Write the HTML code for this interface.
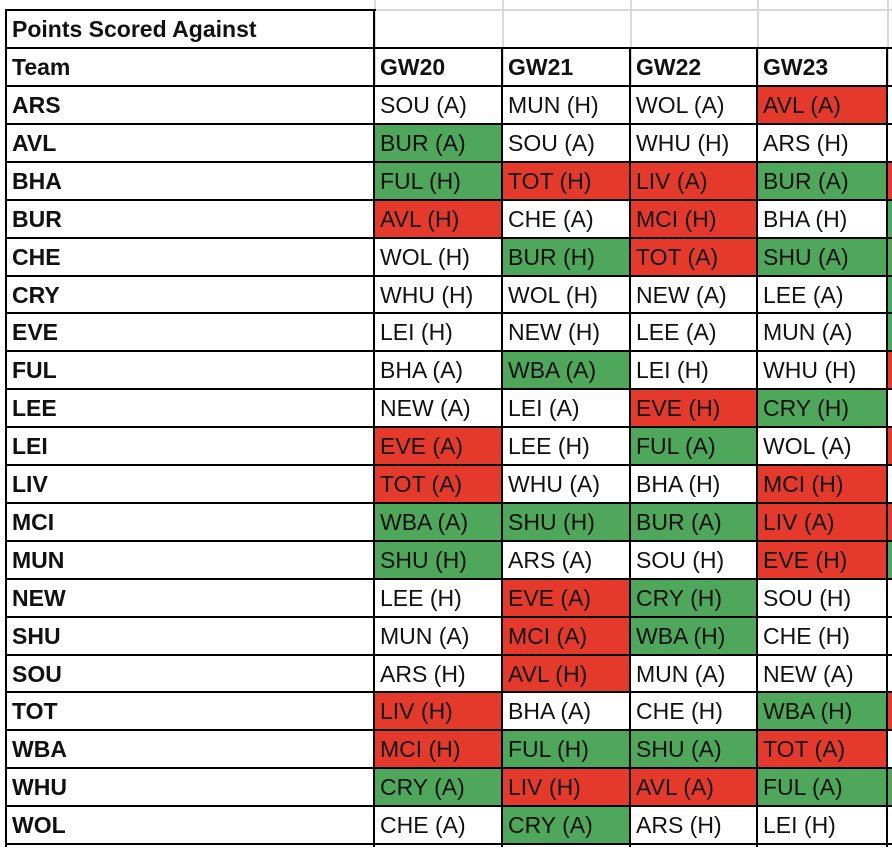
<!DOCTYPE html>
<html><head><meta charset="utf-8"><style>
body{margin:0;width:892px;height:851px;overflow:hidden;background:#fff;font-family:"Liberation Sans",sans-serif;}
#sheet{position:relative;width:892px;height:851px;overflow:hidden;}
.c{position:absolute;box-sizing:border-box;font-size:23px;line-height:38px;padding-left:6px;white-space:nowrap;overflow:hidden;color:#111;}
.b{font-weight:bold;}
.r{background:#e5392b;}
.g{background:#4ea75a;}
.gl{position:absolute;background:#d9d9d9;}
.bl{position:absolute;background:#000;}
</style></head><body>
<div id="sheet"></div>
<script>
const teams=["ARS","AVL","BHA","BUR","CHE","CRY","EVE","FUL","LEE","LEI","LIV","MCI","MUN","NEW","SHU","SOU","TOT","WBA","WHU","WOL"];
const weeks=["GW20","GW21","GW22","GW23",""];
const gw20=["SOU (A)","BUR (A)","FUL (H)","AVL (H)","WOL (H)","WHU (H)","LEI (H)","BHA (A)","NEW (A)","EVE (A)","TOT (A)","WBA (A)","SHU (H)","LEE (H)","MUN (A)","ARS (H)","LIV (H)","MCI (H)","CRY (A)","CHE (A)"];
const gw21=["MUN (H)","SOU (A)","TOT (H)","CHE (A)","BUR (H)","WOL (H)","NEW (H)","WBA (A)","LEI (A)","LEE (H)","WHU (A)","SHU (H)","ARS (A)","EVE (A)","MCI (A)","AVL (H)","BHA (A)","FUL (H)","LIV (H)","CRY (A)"];
const gw22=["WOL (A)","WHU (H)","LIV (A)","MCI (H)","TOT (A)","NEW (A)","LEE (A)","LEI (H)","EVE (H)","FUL (A)","BHA (H)","BUR (A)","SOU (H)","CRY (H)","WBA (H)","MUN (A)","CHE (H)","SHU (A)","AVL (A)","ARS (H)"];
const gw23=["AVL (A)","ARS (H)","BUR (A)","BHA (H)","SHU (A)","LEE (A)","MUN (A)","WHU (H)","CRY (H)","WOL (A)","MCI (H)","LIV (A)","EVE (H)","SOU (H)","CHE (H)","NEW (A)","WBA (H)","TOT (A)","FUL (A)","LEI (H)"];
const gw24=["","","","","","","","","","","","","","","","","","","",""];
const col20=["w","g","g","r","w","w","w","w","w","r","r","g","g","w","w","w","r","r","g","w"];
const col21=["w","w","r","w","g","w","w","g","w","w","w","g","w","r","r","r","w","g","r","g"];
const col22=["w","w","r","r","r","w","w","w","r","g","w","g","w","g","g","w","w","g","r","w"];
const col23=["r","w","g","w","g","w","w","w","g","w","r","r","r","w","w","w","g","r","g","w"];
const col24=["w","w","r","g","g","g","g","r","w","r","w","r","g","w","w","w","r","w","g","w"];

const sheet=document.getElementById('sheet');
const colX=[6,374,502,630,757,887,1015];
const rowY=i=>86+i*37.9;
function cell(x,y,w,h,txt,cls,name){
  const d=document.createElement('div');
  d.className='c '+(cls||'');
  d.style.left=x+'px';d.style.top=y+'px';d.style.width=w+'px';d.style.height=h+'px';
  d.textContent=txt;
  
  
  sheet.appendChild(d);return d;
}
function line(x,y,w,h,cls,name){
  const d=document.createElement('div');
  d.className=cls;d.style.left=x+'px';d.style.top=y+'px';d.style.width=w+'px';d.style.height=h+'px';
  
  
  sheet.appendChild(d);
}
[374,502,630,757,887].forEach(x=>line(x,0,2,86,'gl','gridline'));
line(374,9,520,2,'gl','gridline');
cell(6,10,368,38,"Points Scored Against","b","table-title");
cell(6,48,368,38,"Team","b","team-header");
weeks.forEach((w,j)=>cell(colX[j+1],48,colX[j+2]-colX[j+1],38,w,"b","week-header"));
const cols=[gw20,gw21,gw22,gw23,gw24];
const colors=[col20,col21,col22,col23,col24];
teams.forEach((t,i)=>{
  const y=rowY(i);
  cell(6,y,368,38,t,"b","team-label");
  cols.forEach((c,j)=>{
    const k=colors[j][i];
    cell(colX[j+1],y,colX[j+2]-colX[j+1],38,c[i],k==='r'?'r':k==='g'?'g':'',"fixture-cell");
  });
});
line(6,9,370,2,'bl','border');
line(6,47,890,2,'bl','border');
for(let i=0;i<=20;i++) line(6,Math.round(rowY(i))-1,890,2,'bl','border');
line(5,9,2,838,'bl','border');
line(373,9,2,838,'bl','border');
[502,630,757,887].forEach(x=>line(x-1,47,2,800,'bl','border'));
</script>
</body></html>
